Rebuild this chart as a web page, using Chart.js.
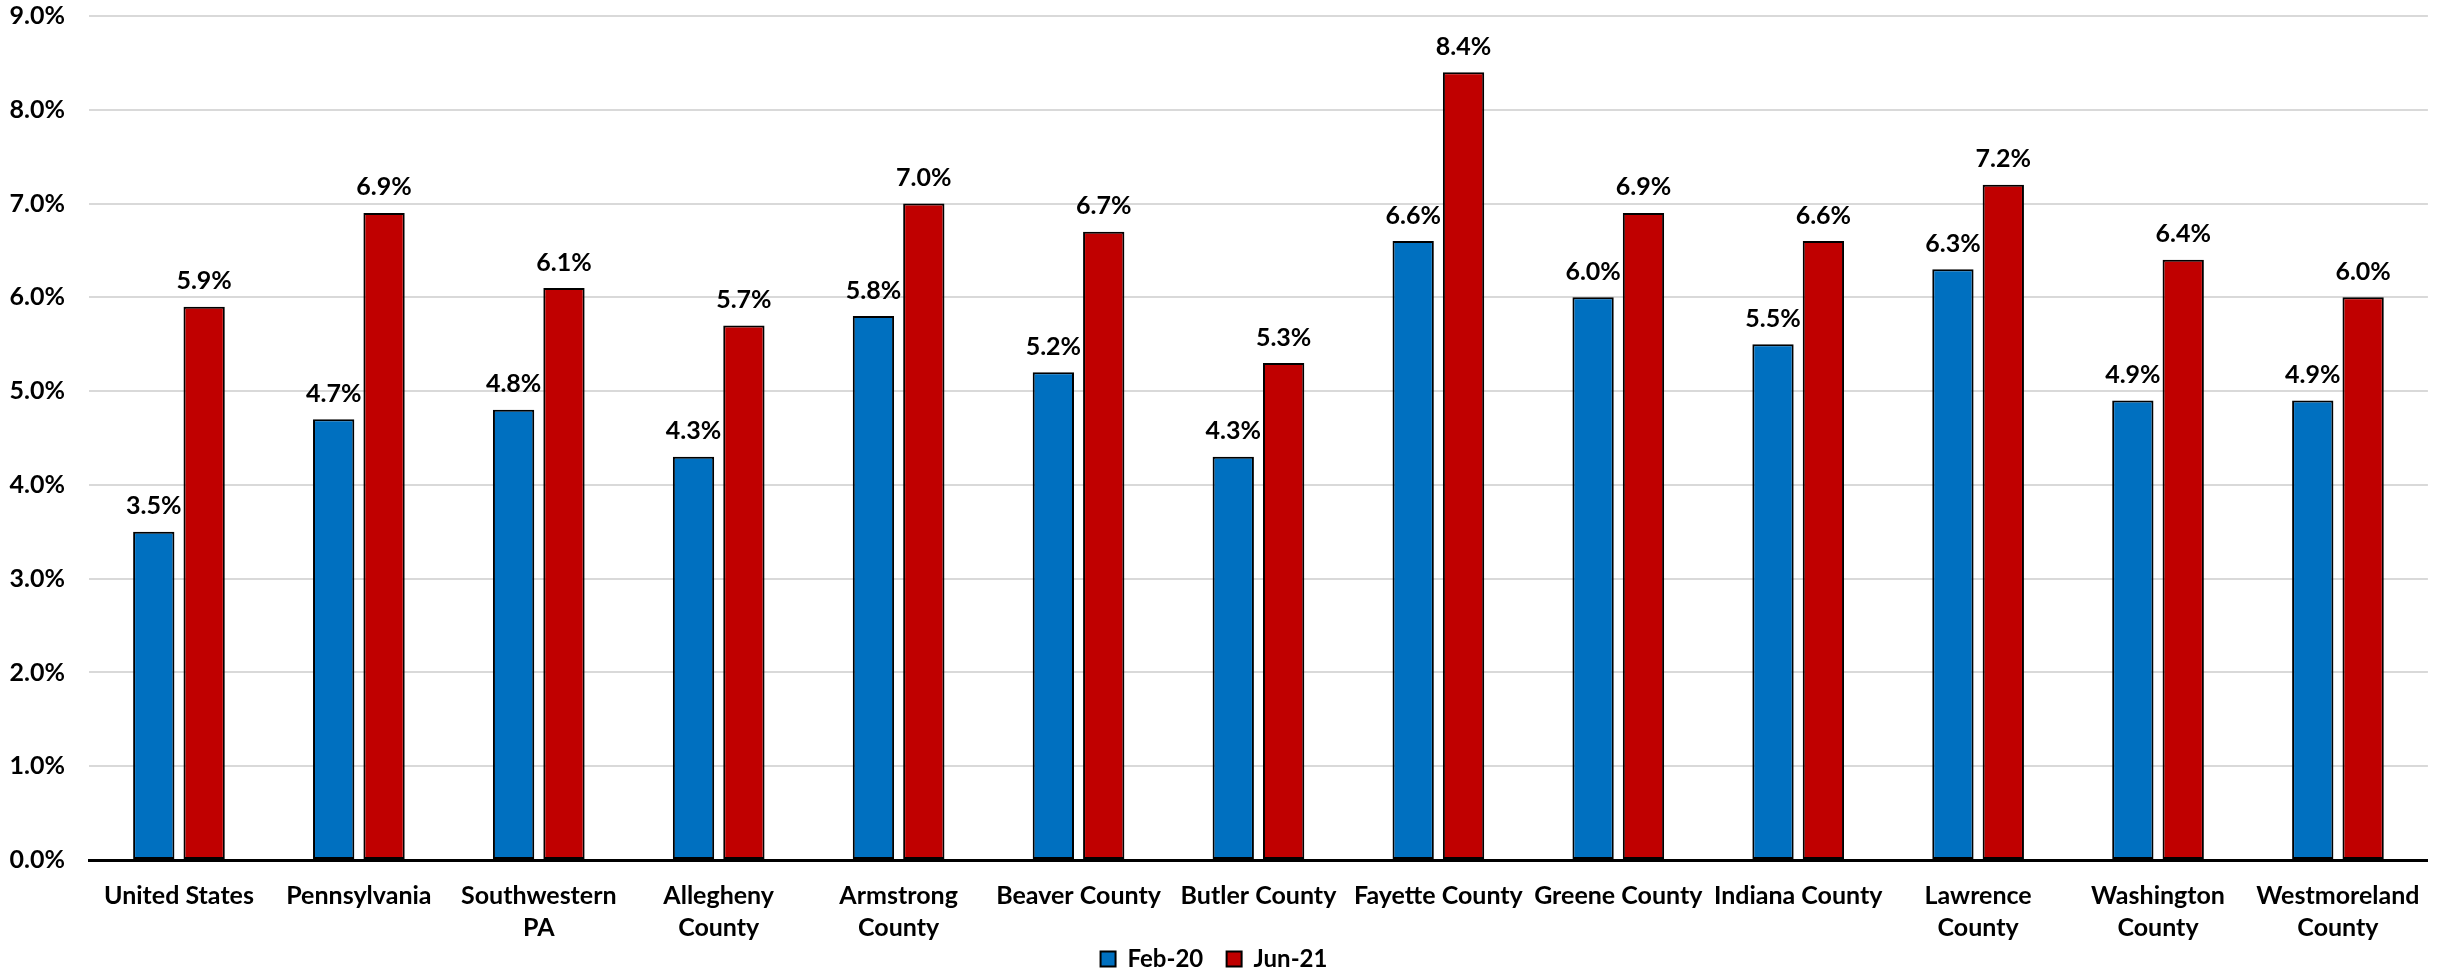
<!DOCTYPE html>
<html>
<head>
<meta charset="utf-8">
<script src="https://cdn.jsdelivr.net/npm/chart.js@4/dist/chart.umd.min.js"></script>
<style>
  html, body { margin: 0; padding: 0; background: #fff; }
  #wrap { width: 2440px; height: 970px; position: relative; }
</style>
</head>
<body>
<div id="wrap"><canvas id="chart"></canvas></div>
<script>
// unemployment rate by area, two periods
var areas = [
    'United States', 'Pennsylvania', ['Southwestern', 'PA'], ['Allegheny', 'County'],
    ['Armstrong', 'County'], 'Beaver County', 'Butler County', 'Fayette County',
    'Greene County', 'Indiana County', ['Lawrence', 'County'], ['Washington', 'County'],
    ['Westmoreland', 'County']
];
var feb20 = [3.5, 4.7, 4.8, 4.3, 5.8, 5.2, 4.3, 6.6, 6.0, 5.5, 6.3, 4.9, 4.9];
var jun21 = [5.9, 6.9, 6.1, 5.7, 7.0, 6.7, 5.3, 8.4, 6.9, 6.6, 7.2, 6.4, 6.0];
var seriesNames = ['Feb-20', 'Jun-21'];
var yTicks = [0, 1, 2, 3, 4, 5, 6, 7, 8, 9];

var FONT = 'Lato';

// value text above each bar
const valueLabels = {
    id: 'valueLabels',
    afterDatasetsDraw(chart) {
        const ctx = chart.ctx;
        ctx.save();
        ctx.font = 'bold 25px ' + FONT;
        ctx.fillStyle = '#000';
        ctx.textAlign = 'center';
        ctx.textBaseline = 'bottom';
        chart.data.datasets.forEach(function (ds, i) {
            chart.getDatasetMeta(i).data.forEach(function (bar, j) {
                ctx.fillText(ds.data[j].toFixed(1) + '%', bar.x, bar.y - 13);
            });
        });
        ctx.restore();
    }
};

// x labels run into the legend band; let them draw past the scale box
const looseXLabels = {
    id: 'looseXLabels',
    afterLayout(chart) {
        chart.scales.x.bottom = chart.height;
    }
};

const barStyle = {
    borderColor: '#000',
    borderWidth: 2,
    borderSkipped: false,
    categoryPercentage: 0.56,
    barPercentage: 0.82
};

const chart = new Chart(document.getElementById('chart'), {
    type: 'bar',
    data: {
        labels: areas,
        datasets: [
            Object.assign({ label: seriesNames[0], data: feb20, backgroundColor: '#0070C0' }, barStyle),
            Object.assign({ label: seriesNames[1], data: jun21, backgroundColor: '#C00000' }, barStyle)
        ]
    },
    options: {
        responsive: true,
        maintainAspectRatio: false,
        animation: false,
        layout: { padding: { top: 16, right: 12, left: 0, bottom: -11 } },
        plugins: {
            tooltip: { enabled: false },
            legend: {
                position: 'bottom',
                labels: {
                    font: { family: FONT, size: 24, weight: 'bold' },
                    color: '#000',
                    boxWidth: 15,
                    boxHeight: 15,
                    padding: 0,
                    // legend padding is kept at 0 to save height, so space items with text
                    generateLabels: function (chart) {
                        var items = Chart.defaults.plugins.legend.labels.generateLabels(chart);
                        items.forEach(function (it, i) {
                            if (i < items.length - 1) it.text = it.text + '    ';
                        });
                        return items;
                    }
                }
            }
        },
        scales: {
            x: {
                grid: { display: false, drawTicks: false },
                border: { color: '#000', width: 3 },
                afterFit: function (scale) { scale.height -= 17; },
                ticks: {
                    font: { family: FONT, size: 25, weight: 'bold', lineHeight: 1.28 },
                    color: '#000',
                    maxRotation: 0,
                    autoSkip: false,
                    padding: 20
                }
            },
            y: {
                min: 0,
                max: 9,
                afterBuildTicks: function (scale) {
                    scale.ticks = yTicks.map(function (v) { return { value: v }; });
                },
                afterFit: function (scale) {
                    scale.width = 89;
                    scale.paddingTop = 0;
                    scale.paddingBottom = 0;
                },
                grid: { color: '#d9d9d9', lineWidth: 2, drawTicks: false },
                border: { display: false },
                ticks: {
                    font: { family: FONT, size: 25, weight: 'bold' },
                    color: '#000',
                    padding: 24,
                    callback: function (v) { return v.toFixed(1) + '%'; }
                }
            }
        }
    },
    plugins: [valueLabels, looseXLabels]
});
</script>
</body>
</html>
